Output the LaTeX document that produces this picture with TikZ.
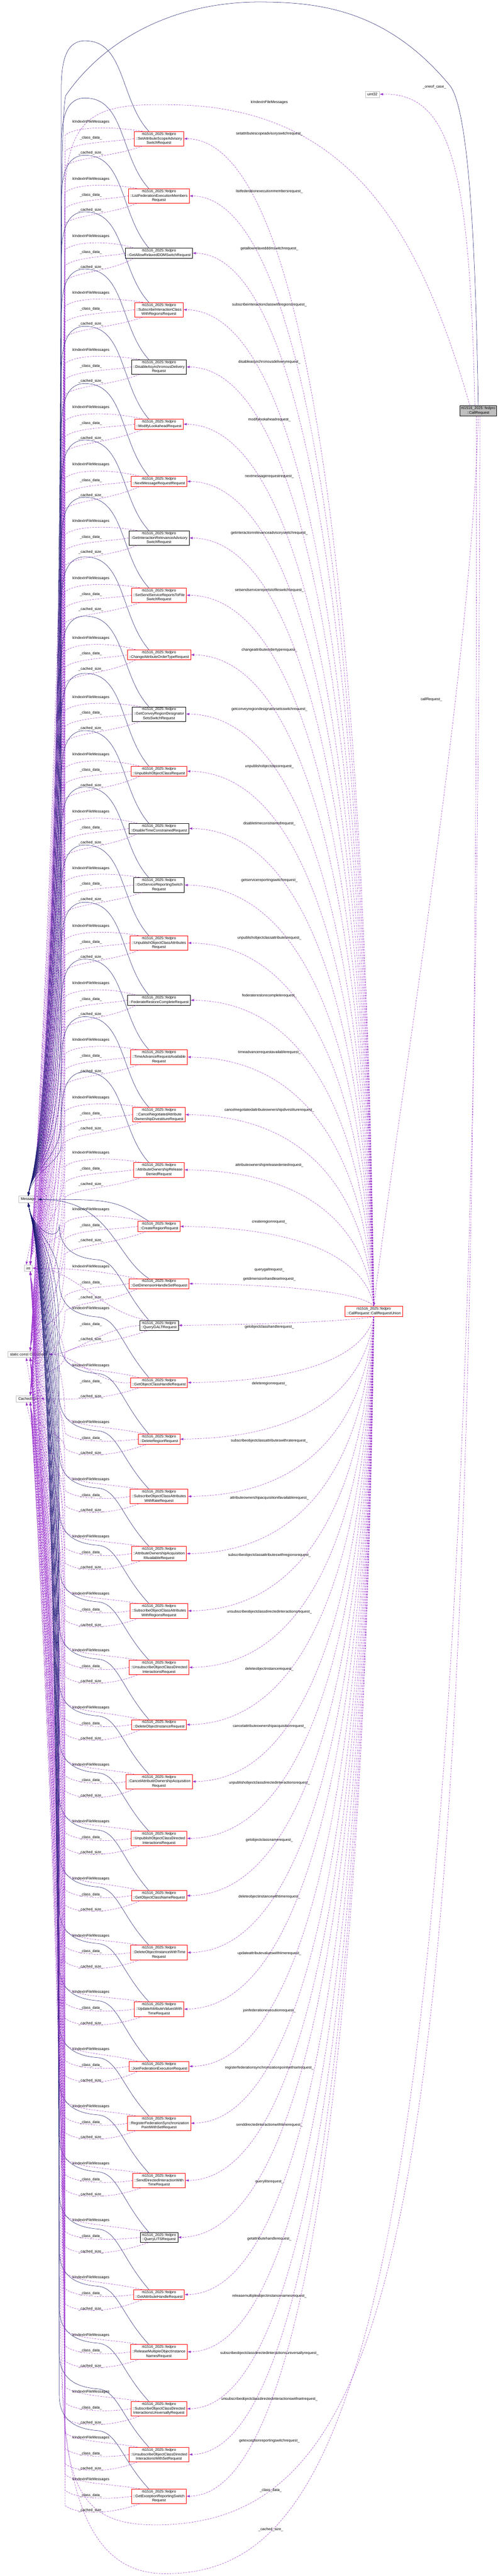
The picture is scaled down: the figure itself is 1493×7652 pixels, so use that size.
\documentclass[tikz,border=0pt]{standalone}
\usepackage{fontspec}
\setmainfont{Liberation Sans}
\usetikzlibrary{arrows.meta}
\definecolor{navy}{HTML}{191970}
\definecolor{orch}{HTML}{9A32CD}
\definecolor{leaf}{HTML}{BFBFBF}
\newcommand\memb[5]{%
 \node[lab] at (270,#2) {#5};
 \pgfmathsetmacro\lyb{#2+13}%
 \pgfmathsetmacro\dd{abs(#2-#4)}%
 \ifdim\dd pt<140pt
   \draw[mem] #1 .. controls (300,\lyb) and (220,#4) .. (#3.east);
 \else
  \pgfmathsetmacro\mymid{(#2+40+#4)/2}%
  \ifdim#2pt<#4pt
   \pgfmathsetmacro\cc{#4-90}%
   \draw[mem] #1 .. controls (330,\lyb) and (225,\lyb) .. (193,#2+40) .. controls (193,\mymid) and (95,\cc) .. ([xshift=6pt]#3.north);
  \else
   \pgfmathsetmacro\cc{#4+90}%
   \draw[mem] #1 .. controls (330,\lyb) and (225,\lyb) .. (193,#2-15) .. controls (193,\mymid) and (95,\cc) .. ([xshift=6pt]#3.south);
  \fi
 \fi}
\newcommand\mycls[5]{%
 \pgfmathsetmacro\yy{#2}%
 \node[cls,draw=#3] (#1) at (472,\yy) {rti1516\_2025::fedpro\\#4};
 \ifdim\yy pt<3500pt
   \draw[inh] ([xshift=-30pt]#1.north) .. controls (360,\yy-110) and (370,\yy-280) .. (265,\yy-290) .. controls (205,\yy-298) and (182,\yy-250) .. (182,\yy-150) .. controls (182,3440) and (95,3470) .. (Msg.north);
 \else\ifdim\yy pt<3900pt
   \draw[inh] ([xshift=-30pt]#1.north) .. controls (340,\yy-80) and (330,3563) .. (Msg.east);
 \else
   \draw[inh] ([xshift=-30pt]#1.north) .. controls (360,\yy-110) and (350,\yy-190) .. (290,\yy-195) .. controls (220,\yy-200) and (176,\yy-230) .. (176,\yy-300) .. controls (176,3700) and (95,3650) .. (Msg.south);
 \fi\fi
 \pgfmathsetmacro\ka{\yy-50}\pgfmathsetmacro\kb{\yy-3}\pgfmathsetmacro\kc{\yy+42}%
 \memb{([xshift=25pt]#1.north west)}{\ka}{int}{3767}{kIndexInFileMessages}
 \memb{(#1.west)}{\kb}{CD}{4023}{\_class\_data\_}
 \memb{([xshift=25pt]#1.south west)}{\kc}{CS}{4155}{\_cached\_size\_}
 \pgfmathsetmacro\ym{(\yy+3895)/2}%
 \ifdim\yy pt<3895pt
   \draw[mem] (U.north) .. controls (1090,\ym) and (960,\yy+5) .. (#1.east);
   \node[lab] at (800,\yy-14) {#5};
 \else
   \draw[mem] (U.south) .. controls (1090,\ym) and (960,\yy-5) .. (#1.east);
   \node[lab] at (800,\yy-165) {#5};
 \fi}
\begin{document}
\begin{tikzpicture}[x=1pt,y=-1pt,
 every node/.style={font=\fontsize{11}{13.5}\selectfont},
 cls/.style={draw, fill=white, align=center, inner xsep=5pt, inner ysep=3pt, line width=0.9pt},
 leafn/.style={draw=leaf, fill=white, line width=1pt, inner xsep=6pt, inner ysep=5pt},
 inh/.style={draw=navy, line width=0.8pt, -{Latex[length=10pt,width=7pt]}},
 mem/.style={draw=orch, line width=0.8pt, dash pattern=on 5pt off 3pt, -{Latex[length=10pt,width=7pt]}},
 lab/.style={font=\fontsize{11}{13}\selectfont, inner sep=1pt}]
\useasboundingbox (0,0) rectangle (1493,7652);
\node[leafn] (Msg) at (84,3563) {Message};
\node[leafn] (int) at (84,3767) {int};
\node[leafn] (CD) at (84,4023) {static const ClassData};
\node[leafn] (CS) at (84,4155) {CachedSize};
\node[leafn] (u32) at (1106,280) {uint32};
\node[draw, fill=leaf, align=center, line width=0.9pt, inner sep=4pt] (CR) at (1420,1220) {rti1516\_2025::fedpro\\::CallRequest};
\node[cls, draw=red] (U) at (1110,3895) {rti1516\_2025::fedpro\\::CallRequest::CallRequestUnion};

\draw[inh] (CR.north) .. controls (1412,700) and (1390,320) .. (1335,253) .. controls (1150,30) and (950,6) .. (770,6) .. controls (500,6) and (300,130) .. (195,284) .. controls (182,340) and (182,700) .. (182,1200) -- (182,3400) .. controls (182,3450) and (100,3480) .. (Msg.north);
\draw[mem] ([xshift=-10pt]CR.north) .. controls (1395,500) and (1340,275) .. (u32.east);
\node[lab] at (1290,258) {\_oneof\_case\_};
\draw[mem] ([xshift=-25pt]CR.north) .. controls (1250,700) and (1050,330) .. (540,312) .. controls (300,305) and (195,320) .. (192,600) .. controls (190,3500) and (95,3650) .. ([xshift=-6pt]int.north);
\node[lab] at (800,304) {kIndexInFileMessages};
\draw[mem] (CR.south) .. controls (1400,2000) and (1180,3300) .. (U.north);
\node[lab] at (1281,2078) {callRequest\_};
\draw[mem] ([xshift=-5pt]CR.south) .. controls (1420,6400) and (1250,7480) .. (480,7500) .. controls (240,7505) and (185,7400) .. (185,7000) .. controls (185,4500) and (95,4150) .. ([xshift=-6pt]CD.south);
\node[lab] at (804,7398) {\_class\_data\_};
\draw[mem] ([xshift=5pt]CR.south) .. controls (1420,6900) and (1050,7645) .. (490,7645) .. controls (240,7645) and (180,7350) .. (180,6900) .. controls (180,4400) and (95,4250) .. ([xshift=-6pt]CS.south);
\node[lab] at (804,7513) {\_cached\_size\_};

\mycls{n1}{412}{red}{::SetAttributeScopeAdvisory\\SwitchRequest}{setattributescopeadvisoryswitchrequest\_}
\mycls{n2}{582}{red}{::ListFederationExecutionMembers\\Request}{listfederationexecutionmembersrequest\_}
\mycls{n3}{752}{black}{::GetAllowRelaxedDDMSwitchRequest}{getallowrelaxedddmswitchrequest\_}
\mycls{n4}{920}{red}{::SubscribeInteractionClass\\WithRegionsRequest}{subscribeinteractionclasswithregionsrequest\_}
\mycls{n5}{1090}{black}{::DisableAsynchronousDelivery\\Request}{disableasynchronousdeliveryrequest\_}
\mycls{n6}{1260}{red}{::ModifyLookaheadRequest}{modifylookaheadrequest\_}
\mycls{n7}{1430}{red}{::NextMessageRequestRequest}{nextmessagerequestrequest\_}
\mycls{n8}{1598}{black}{::GetInteractionRelevanceAdvisory\\SwitchRequest}{getinteractionrelevanceadvisoryswitchrequest\_}
\mycls{n9}{1768}{red}{::SetSendServiceReportsToFile\\SwitchRequest}{setsendservicereportstofileswitchrequest\_}
\mycls{n10}{1945}{red}{::ChangeAttributeOrderTypeRequest}{changeattributeordertyperequest\_}
\mycls{n11}{2121}{black}{::GetConveyRegionDesignator\\SetsSwitchRequest}{getconveyregiondesignatorsetsswitchrequest\_}
\mycls{n12}{2291}{red}{::UnpublishObjectClassRequest}{unpublishobjectclassrequest\_}
\mycls{n13}{2461}{black}{::DisableTimeConstrainedRequest}{disabletimeconstrainedrequest\_}
\mycls{n14}{2629}{black}{::GetServiceReportingSwitch\\Request}{getservicereportingswitchrequest\_}
\mycls{n15}{2801}{red}{::UnpublishObjectClassAttributes\\Request}{unpublishobjectclassattributesrequest\_}
\mycls{n16}{2971}{black}{::FederateRestoreCompleteRequest}{federaterestorecompleterequest\_}
\mycls{n17}{3140}{red}{::TimeAdvanceRequestAvailable\\Request}{timeadvancerequestavailablerequest\_}
\mycls{n18}{3311}{red}{::CancelNegotiatedAttribute\\OwnershipDivestitureRequest}{cancelnegotiatedattributeownershipdivestiturerequest\_}
\mycls{n19}{3475}{red}{::AttributeOwnershipRelease\\DeniedRequest}{attributeownershipreleasedeniedrequest\_}
\mycls{n20}{3643}{red}{::CreateRegionRequest}{createregionrequest\_}
\mycls{n21}{3813}{red}{::GetDimensionHandleSetRequest}{getdimensionhandlesetrequest\_}
\mycls{n22}{3937}{black}{::QueryGALTRequest}{querygaltrequest\_}
\mycls{n23}{4107}{red}{::GetObjectClassHandleRequest}{getobjectclasshandlerequest\_}
\mycls{n24}{4275}{red}{::DeleteRegionRequest}{deleteregionrequest\_}
\mycls{n25}{4445}{red}{::SubscribeObjectClassAttributes\\WithRateRequest}{subscribeobjectclassattributeswithraterequest\_}
\mycls{n26}{4615}{red}{::AttributeOwnershipAcquisition\\IfAvailableRequest}{attributeownershipacquisitionifavailablerequest\_}
\mycls{n27}{4785}{red}{::SubscribeObjectClassAttributes\\WithRegionsRequest}{subscribeobjectclassattributeswithregionsrequest\_}
\mycls{n28}{4953}{red}{::UnsubscribeObjectClassDirected\\InteractionsRequest}{unsubscribeobjectclassdirectedinteractionsrequest\_}
\mycls{n29}{5123}{red}{::DeleteObjectInstanceRequest}{deleteobjectinstancerequest\_}
\mycls{n30}{5292}{red}{::CancelAttributeOwnershipAcquisition\\Request}{cancelattributeownershipacquisitionrequest\_}
\mycls{n31}{5461}{red}{::UnpublishObjectClassDirected\\InteractionsRequest}{unpublishobjectclassdirectedinteractionsrequest\_}
\mycls{n32}{5631}{red}{::GetObjectClassNameRequest}{getobjectclassnamerequest\_}
\mycls{n33}{5800}{red}{::DeleteObjectInstanceWithTime\\Request}{deleteobjectinstancewithtimerequest\_}
\mycls{n34}{5968}{red}{::UpdateAttributeValuesWith\\TimeRequest}{updateattributevalueswithtimerequest\_}
\mycls{n35}{6138}{red}{::JoinFederationExecutionRequest}{joinfederationexecutionrequest\_}
\mycls{n36}{6307}{red}{::RegisterFederationSynchronization\\PointWithSetRequest}{registerfederationsynchronizationpointwithsetrequest\_}
\mycls{n37}{6477}{red}{::SendDirectedInteractionWith\\TimeRequest}{senddirectedinteractionwithtimerequest\_}
\mycls{n38}{6646}{black}{::QueryLITSRequest}{querylitsrequest\_}
\mycls{n39}{6816}{red}{::GetAttributeHandleRequest}{getattributehandlerequest\_}
\mycls{n40}{6986}{red}{::ReleaseMultipleObjectInstance\\NamesRequest}{releasemultipleobjectinstancenamesrequest\_}
\mycls{n41}{7155}{red}{::SubscribeObjectClassDirected\\InteractionsUniversallyRequest}{subscribeobjectclassdirectedinteractionsuniversallyrequest\_}
\mycls{n42}{7291}{red}{::UnsubscribeObjectClassDirected\\InteractionsWithSetRequest}{unsubscribeobjectclassdirectedinteractionswithsetrequest\_}
\mycls{n43}{7415}{red}{::GetExceptionReportingSwitch\\Request}{getexceptionreportingswitchrequest\_}
\end{tikzpicture}
\end{document}
